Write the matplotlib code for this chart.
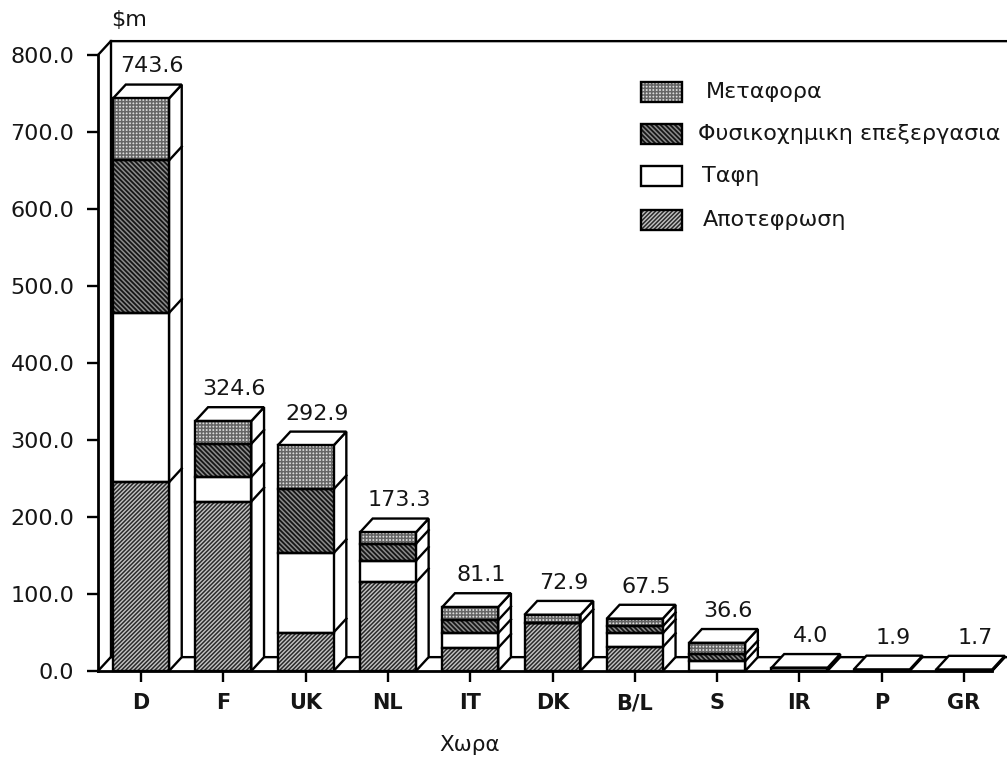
import matplotlib
matplotlib.use("Agg")
import numpy as np
import matplotlib.pyplot as plt
from matplotlib.patches import Rectangle

plt.rcParams['font.family'] = ['DejaVu Sans']
plt.rcParams['hatch.linewidth'] = 1.1

countries = ['D', 'F', 'UK', 'NL', 'IT', 'DK', 'B/L', 'S', 'IR', 'P', 'GR']
totals = ['743.6', '324.6', '292.9', '173.3', '81.1', '72.9', '67.5', '36.6', '4.0', '1.9', '1.7']
apotefrosi = [245, 220, 50, 115, 30, 62, 31, 0, 0, 0, 0]
tafi = [220, 32, 103, 28, 19, 0, 18, 12.5, 4.0, 1.9, 1.7]
fysikoximiki = [198, 43, 83, 22, 17, 0, 9, 9, 0, 0, 0]
metafora = [80.6, 29.6, 56.9, 15, 17, 11, 10, 15, 0, 0, 0]
y_ticks = [0, 100, 200, 300, 400, 500, 600, 700, 800]

W, H = 1007, 762
DEPTH_X = 0.155
DEPTH_Y = 18
BAR_W = 0.68
LW = 1.7

# name, face colour, hatch colour, hatch
styles = [
    ('Αποτεφρωση', '#c4c4c4', '#2a2a2a', '////////'),
    ('Ταφη', 'white', 'white', None),
    ('Φυσικοχημικη επεξεργασια', '#161616', '#8c8c8c', '\\\\\\\\\\\\\\'),
    ('Μεταφορα', '#dddddd', '#666666', '+++++'),
]
series = [apotefrosi, tafi, fysikoximiki, metafora]

fig = plt.figure(figsize=(W / 100, H / 100), dpi=100)
ax = fig.add_axes([98 / W, (H - 671) / H, (W - 98) / W, (671 - 55) / H])
ax.patch.set_visible(False)
ax.set_xlim((98 - 141) / 82.3, (W - 98 - 43) / 82.3)
ax.set_ylim(0, 800)

for s in ['top', 'right']:
    ax.spines[s].set_visible(False)
for s in ['left', 'bottom']:
    ax.spines[s].set_linewidth(2.0)
ax.spines['bottom'].set_bounds((98 - 141) / 82.3, 10 + BAR_W / 2)

# back wall and floor
x0 = ax.get_xlim()[0]
x1 = ax.get_xlim()[1]
wall = dict(color='black', lw=LW, clip_on=False, zorder=1)
ax.plot([x0, x0 + DEPTH_X, x1], [800, 800 + DEPTH_Y, 800 + DEPTH_Y], **wall)
ax.plot([x0 + DEPTH_X, x0 + DEPTH_X], [DEPTH_Y, 800 + DEPTH_Y], **wall)
ax.plot([x0, x0 + DEPTH_X, x1], [0, DEPTH_Y, DEPTH_Y], **wall)
ax.plot([10 + BAR_W / 2, 10 + BAR_W / 2 + DEPTH_X], [0, DEPTH_Y], **wall)

x = np.arange(len(countries))
bottom = np.zeros(len(countries))
for vals, (name, face, hatch_col, hatch) in zip(series, styles):
    vals = np.array(vals, dtype=float)
    ax.bar(x, vals, BAR_W, bottom=bottom, color=face, edgecolor=hatch_col, hatch=hatch,
           linewidth=0, zorder=3, clip_on=False)
    ax.bar(x, vals, BAR_W, bottom=bottom, facecolor='none', edgecolor='black',
           linewidth=LW, zorder=4, clip_on=False)
    bottom = bottom + vals

# bar sides, tops and the divisions on the side
tops = bottom
for i, top in enumerate(tops):
    r = i + BAR_W / 2
    l = i - BAR_W / 2
    ax.fill([r, r + DEPTH_X, r + DEPTH_X, r], [0, DEPTH_Y, top + DEPTH_Y, top],
            facecolor='white', edgecolor='black', lw=LW, zorder=2, clip_on=False)
    ax.fill([l, l + DEPTH_X, r + DEPTH_X, r], [top, top + DEPTH_Y, top + DEPTH_Y, top],
            facecolor='white', edgecolor='black', lw=LW, zorder=2, clip_on=False)
    level = 0
    for vals in series:
        level += vals[i]
        if vals[i] > 0 and level < top:
            ax.plot([r, r + DEPTH_X], [level, level + DEPTH_Y], color='black', lw=LW,
                    zorder=2.5, clip_on=False)
    ax.annotate(totals[i], xy=(i, top), xytext=(8, 23), textcoords='offset points',
                ha='center', va='center', fontsize=16, color='#151515', zorder=5)

ax.set_xticks(x)
ax.set_xticklabels(countries, fontsize=15, fontweight='bold', color='#151515')
ax.set_yticks(y_ticks)
ax.set_yticklabels([f'{v:.1f}' for v in y_ticks], fontsize=16, color='#151515')
ax.tick_params(axis='both', length=8, width=LW, pad=9)
ax.tick_params(axis='x', pad=8)

fig.text(129 / W, 1 - 20 / H, '$m', fontsize=16, ha='center', va='center', color='#151515',
         parse_math=False)
fig.text(470 / W, 1 - 745 / H, 'Χωρα', fontsize=15.5, ha='center', va='center', color='#151515')

# legend, top entry first
legend_y = [92, 134, 176, 220]
legend_x = [706, 698, 702, 703]
for (name, face, hatch_col, hatch), py, tx in zip(styles[::-1], legend_y, legend_x):
    swatch = dict(transform=fig.transFigure)
    xy = (641 / W, 1 - (py + 10) / H)
    fig.add_artist(Rectangle(xy, 41 / W, 20 / H, facecolor=face, edgecolor=hatch_col,
                             hatch=hatch, linewidth=0, **swatch))
    fig.add_artist(Rectangle(xy, 41 / W, 20 / H, facecolor='none', edgecolor='black',
                             linewidth=LW, **swatch))
    fig.text(tx / W, 1 - py / H, name, fontsize=16, ha='left', va='center', color='#151515')

fig.savefig('out.png', dpi=100)
